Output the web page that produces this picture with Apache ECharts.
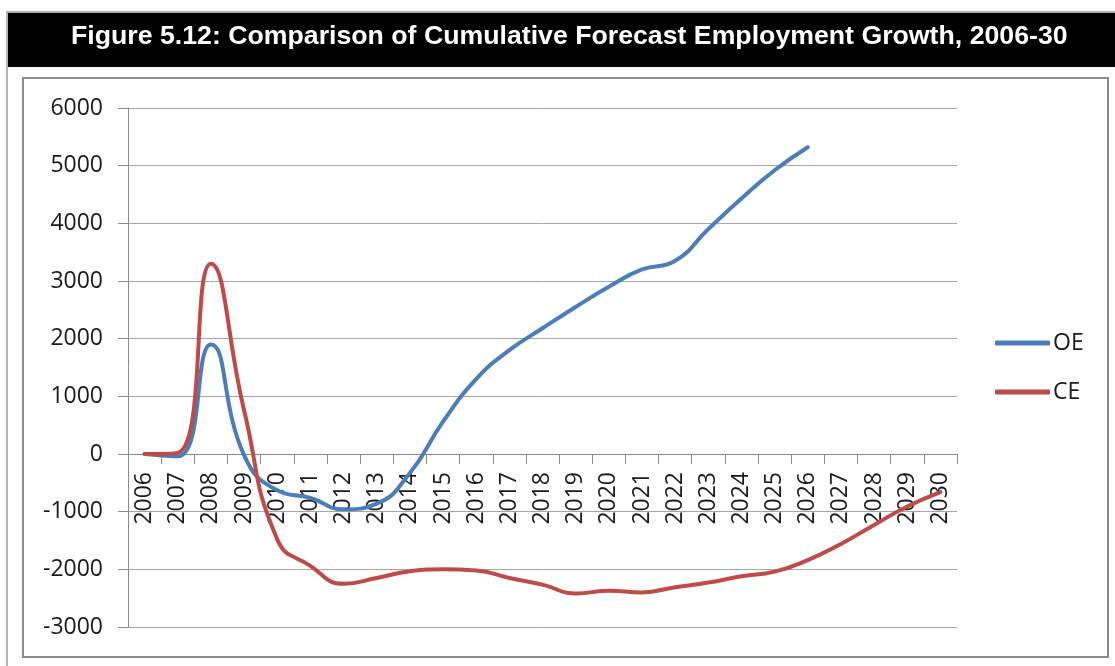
<!DOCTYPE html>
<html>
<head>
<meta charset="utf-8">
<script src="https://cdn.jsdelivr.net/npm/echarts@6/dist/echarts.min.js"></script>
<style>
html,body{margin:0;padding:0;background:#fff;}
#chart{width:1115px;height:666px;}
</style>
</head>
<body>
<div id="chart"></div>
<script>
const titleText = 'Figure 5.12: Comparison of Cumulative Forecast Employment Growth, 2006-30';
const years = ['2006','2007','2008','2009','2010','2011','2012','2013','2014','2015','2016','2017','2018','2019','2020','2021','2022','2023','2024','2025','2026','2027','2028','2029','2030'];
const oeValues = [0, -40, 1900, -20, -630, -760, -960, -860, -330, 560, 1300, 1800, 2180, 2550, 2900, 3200, 3350, 3900, 4430, 4920, 5320];
const ceValues = [0, 20, 3300, 760, -1480, -1940, -2250, -2150, -2035, -2000, -2020, -2150, -2265, -2420, -2370, -2400, -2310, -2230, -2120, -2040, -1840, -1560, -1230, -910, -660];
const yTicks = { min: -3000, max: 6000, step: 1000 };

const chart = echarts.init(document.getElementById('chart'), null, { renderer: 'canvas' });
const axisFont = { fontFamily: 'Open Sans', fontSize: 23, color: '#1a1a1a' };

chart.setOption({
  animation: false,
  backgroundColor: '#ffffff',
  title: {
    text: titleText,
    left: 71,
    top: 22,
    padding: 0,
    textStyle: { color: '#ffffff', fontFamily: 'Liberation Sans', fontWeight: 'bold', fontSize: 26.7, lineHeight: 30 }
  },
  graphic: [
    { type: 'rect', z: -10, shape: { x: 7, y: 12, width: 1112, height: 662 }, style: { fill: '#ffffff', stroke: '#9a9a9a', lineWidth: 1.5 } },
    { type: 'rect', z: -9, shape: { x: 8, y: 13, width: 1110, height: 54 }, style: { fill: '#000000' } },
    { type: 'rect', z: -8, shape: { x: 23, y: 78, width: 1085, height: 579 }, style: { fill: 'none', stroke: '#8c8c8c', lineWidth: 2 } }
  ],
  legend: {
    orient: 'vertical',
    left: 995,
    top: 330,
    itemGap: 23,
    itemWidth: 55,
    itemHeight: 5,
    icon: 'roundRect',
    padding: 0,
    textStyle: { fontFamily: 'Open Sans', fontSize: 23, color: '#1a1a1a', lineHeight: 26, padding: [0, 0, 0, -2] },
    data: ['OE', 'CE']
  },
  grid: { left: 128, right: 158, top: 108, bottom: 39, containLabel: false, outerBoundsMode: 'none' },
  xAxis: {
    type: 'category',
    data: years,
    boundaryGap: true,
    offset: -173,
    axisLine: { onZero: false, lineStyle: { color: '#8a8a8a', width: 1 } },
    axisTick: { show: true, length: 10, interval: 0, lineStyle: { color: '#8a8a8a' } },
    axisLabel: Object.assign({ rotate: 90, margin: 18, interval: 0 }, axisFont),
    splitLine: { show: false }
  },
  yAxis: {
    type: 'value',
    min: yTicks.min,
    max: yTicks.max,
    interval: yTicks.step,
    axisLine: { show: true, lineStyle: { color: '#8a8a8a', width: 1 } },
    axisTick: { show: true, length: 10, lineStyle: { color: '#8a8a8a' } },
    axisLabel: Object.assign({ margin: 25, formatter: function (v) { return String(v); } }, axisFont),
    splitLine: { show: true, lineStyle: { color: '#a6a6a6', width: 1 } }
  },
  series: [
    {
      name: 'OE', type: 'line', data: oeValues, smooth: 0.5, showSymbol: false, symbol: 'none',
      color: '#4A7EBB',
      lineStyle: { color: '#4A7EBB', width: 4, cap: 'round', join: 'round' }
    },
    {
      name: 'CE', type: 'line', data: ceValues, smooth: 0.5, showSymbol: false, symbol: 'none',
      color: '#BE4B48',
      lineStyle: { color: '#BE4B48', width: 4, cap: 'round', join: 'round' }
    }
  ]
});
</script>
</body>
</html>
